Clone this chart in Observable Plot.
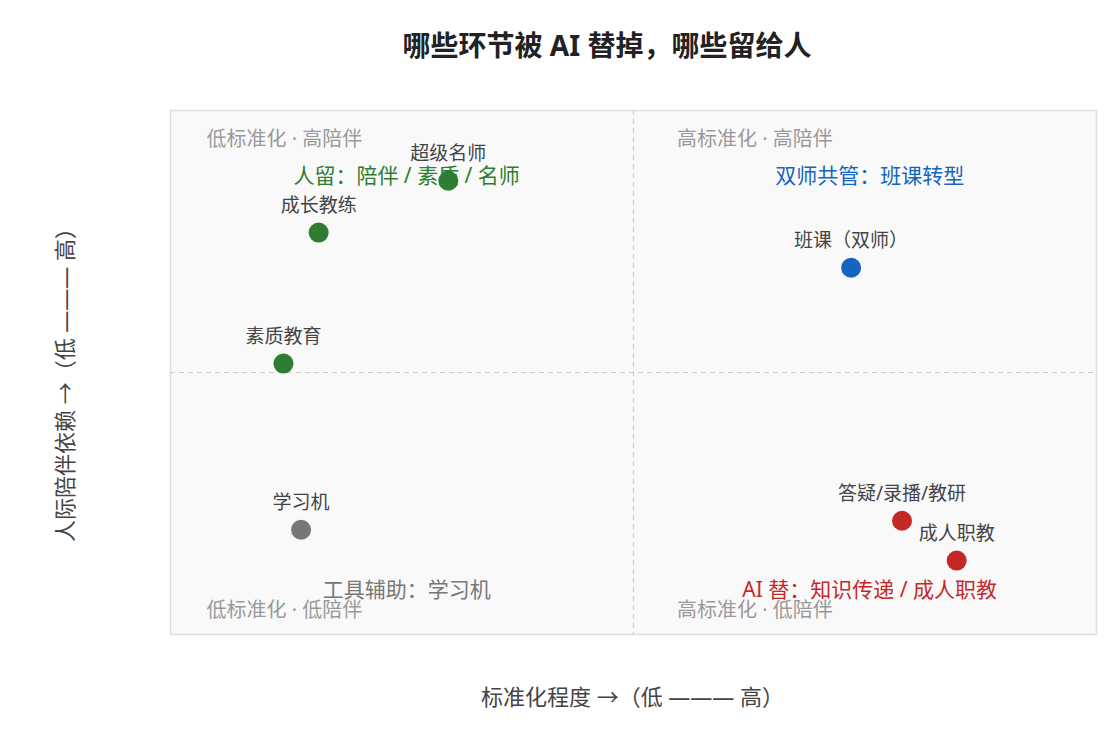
<!DOCTYPE html>
<html>
<head>
<meta charset="utf-8">
<script src="https://cdn.jsdelivr.net/npm/d3@7"></script>
<script src="https://cdn.jsdelivr.net/npm/@observablehq/plot@0.6"></script>
<style>
  html, body { margin: 0; padding: 0; background: #fff; }
  body { width: 1116px; height: 730px; overflow: hidden; font-family: "Noto Sans", "Noto Sans CJK SC", sans-serif; }
  #title { height: 90px; box-sizing: border-box; padding-top: 27px; padding-left: 98px; text-align: center; font-size: 28px; font-weight: bold; color: #222; line-height: 36px; }
</style>
</head>
<body>
<div id="title">哪些环节被 AI 替掉，哪些留给人</div>
<div id="chart"></div>
<script>
// Items: standardization (x) vs. human companionship dependence (y), scale 0–1
const names = ["超级名师", "成长教练", "素质教育", "学习机", "班课（双师）", "答疑/录播/教研", "成人职教"];
const standardization = [0.30, 0.16, 0.122, 0.141, 0.735, 0.79, 0.849];
const companionship = [0.866, 0.767, 0.517, 0.20, 0.70, 0.217, 0.141];
const groups = ["人留", "人留", "人留", "工具", "双师", "AI替", "AI替"];

const groupNames = ["人留", "双师", "工具", "AI替"];
const groupColors = ["#2e7d32", "#1565c0", "#777777", "#c62828"];

// Quadrant annotations
const quadTexts = ["人留：陪伴 / 素质 / 名师", "双师共管：班课转型", "工具辅助：学习机", "AI 替：知识传递 / 成人职教"];
const quadGroups = ["人留", "双师", "工具", "AI替"];
const quadX = [0.255, 0.755, 0.255, 0.755];
const quadY = [0.875, 0.875, 0.085, 0.085];

// Corner labels
const cornerTexts = ["低标准化 · 高陪伴", "高标准化 · 高陪伴", "低标准化 · 低陪伴", "高标准化 · 低陪伴"];
const cornerX = [0.039, 0.547, 0.039, 0.547];
const cornerY = [0.944, 0.944, 0.046, 0.046];

const points = names.map((n, i) => ({name: n, x: standardization[i], y: companionship[i], g: groups[i]}));
const quads = quadTexts.map((t, i) => ({text: t, x: quadX[i], y: quadY[i], g: quadGroups[i]}));
const corners = cornerTexts.map((t, i) => ({text: t, x: cornerX[i], y: cornerY[i]}));

const font = "'Noto Sans', 'Noto Sans CJK SC', sans-serif";

const chart = Plot.plot({
  width: 1116,
  height: 640,
  marginLeft: 170,
  marginRight: 20,
  marginTop: 20,
  marginBottom: 96,
  style: {fontFamily: font, background: "#fff"},
  x: {domain: [0, 1], axis: null},
  y: {domain: [0, 1], axis: null},
  color: {domain: groupNames, range: groupColors},
  marks: [
    Plot.frame({fill: "#f9f9f9", stroke: "#dddddd", strokeWidth: 1.5}),
    Plot.ruleX([0.5], {stroke: "#cccccc", strokeDasharray: "5,4", strokeWidth: 1.2}),
    Plot.ruleY([0.5], {stroke: "#cccccc", strokeDasharray: "5,4", strokeWidth: 1.2}),
    Plot.text(corners, {x: "x", y: "y", text: "text", textAnchor: "start", fill: "#999999", fontSize: 20}),
    Plot.text(quads, {x: "x", y: "y", text: "text", fill: d => d.g, fontSize: 21}),
    Plot.dot(points, {x: "x", y: "y", r: 10, fill: "g"}),
    Plot.text(points, {x: "x", y: "y", text: "name", dy: -27, fill: "#444444", fontSize: 19}),
    Plot.text(["标准化程度 →（低 ——— 高）"], {frameAnchor: "bottom", textAnchor: "middle", lineAnchor: "middle", dx: -1, dy: 63, fill: "#444444", fontSize: 22}),
    Plot.text(["人际陪伴依赖 →（低 ——— 高）"], {frameAnchor: "left", textAnchor: "middle", lineAnchor: "middle", dx: -105, dy: 7, rotate: -90, fill: "#444444", fontSize: 22})
  ]
});
document.getElementById("chart").appendChild(chart);
</script>
</body>
</html>
